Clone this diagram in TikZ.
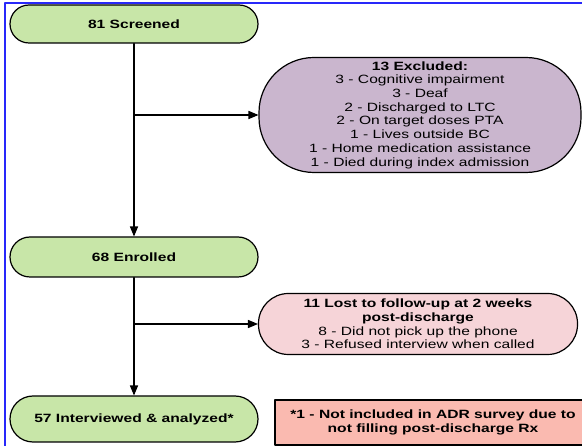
\documentclass[tikz,border=0pt]{standalone}
\usepackage{fontspec}
\setmainfont[FakeStretch=1.3]{Liberation Sans}
\usetikzlibrary{arrows}

\definecolor{screengreen}{RGB}{200,230,168}
\definecolor{exclpurple}{RGB}{202,182,206}
\definecolor{lostpink}{RGB}{246,212,216}
\definecolor{notered}{RGB}{250,186,176}
\definecolor{frameblue}{RGB}{40,40,250}

\begin{document}
\begin{tikzpicture}[line cap=round,line join=round,>=triangle 45,x=1pt,y=-1pt,
    greenbox/.style={draw=black,line width=1.2pt,fill=screengreen,rounded corners=19pt,
      minimum width=248pt,minimum height=38pt,font=\fontsize{12}{14}\selectfont\bfseries},
    sidebox/.style={draw=black,line width=1.2pt,align=center,inner sep=0pt,
      font=\fontsize{12}{13.7}\selectfont},
    flow/.style={->,line width=1.3pt}]
  \useasboundingbox (0,0) rectangle (582,446);
  \draw[frameblue,line width=1.5pt] (5,446) -- (5,3) -- (582,3);

  \node[greenbox] (screened) at (134,24) {81 Screened};
  \node[greenbox,minimum height=40pt,rounded corners=20pt] (enrolled) at (134,257) {68 Enrolled};
  \node[greenbox,minimum height=46pt,rounded corners=23pt] (analyzed) at (134,419) {57 Interviewed \& analyzed*};

  \node[sidebox,fill=exclpurple,minimum width=322pt,minimum height=115pt,rounded corners=55pt]
    (excluded) at (420,115) {\textbf{13 Excluded:}\\3 - Cognitive impairment\\3 - Deaf\\
    2 - Discharged to LTC\\2 - On target doses PTA\\1 - Lives outside BC\\
    1 - Home medication assistance\\1 - Died during index admission};
  \node[sidebox,fill=lostpink,minimum width=319pt,minimum height=61pt,rounded corners=30pt]
    (lost) at (418,324) {\textbf{11 Lost to follow-up at 2 weeks}\\\textbf{post-discharge}\\
    8 - Did not pick up the phone\\3 - Refused interview when called};
  \node[sidebox,fill=notered,rounded corners=0pt,minimum width=316pt,minimum height=45pt,
    font=\fontsize{12}{13.5}\selectfont\bfseries]
    (note) at (433,422.5) {*1 - Not included in ADR survey due to\\not filling post-discharge Rx};

  \coordinate (split1) at (screened |- excluded.west);
  \coordinate (split2) at (enrolled |- lost.west);
  \draw[flow] (screened) -- (enrolled);
  \draw[flow] (split1) -- (excluded);
  \draw[flow] (enrolled) -- (analyzed);
  \draw[flow] (split2) -- (lost);
\end{tikzpicture}
\end{document}
